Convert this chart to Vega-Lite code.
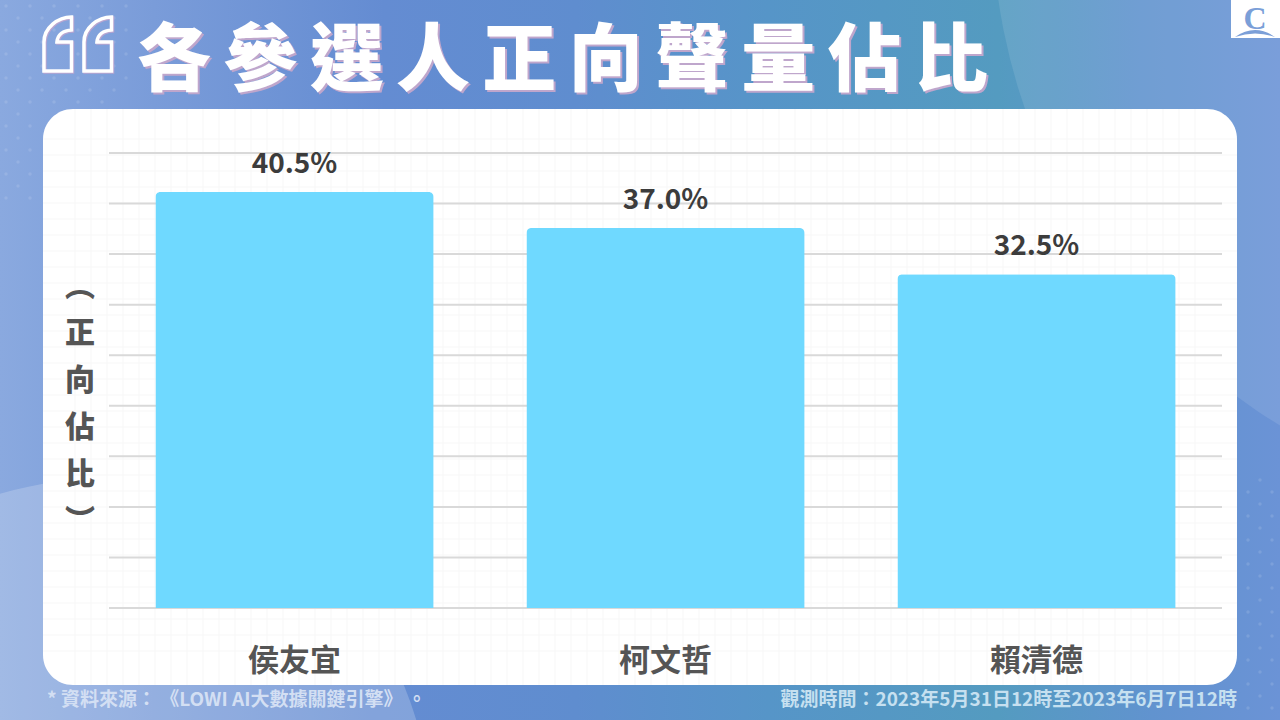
{
  "$schema": "https://vega.github.io/schema/vega-lite/v6.json",
  "description": "各參選人正向聲量佔比",
  "autosize": {"type": "none"},
  "width": 1113,
  "height": 455,
  "padding": {"left": 109, "top": 153, "right": 58, "bottom": 112},
  "background": "#628bd0",
  "config": {"view": {"stroke": null}, "font": "Noto Sans CJK TC"},
  "resolve": {"scale": {"x": "independent", "y": "independent"}},
  "layer": [
    {
      "layer": [
        {
          "data": {"values": [{"name": "bg"}]},
          "mark": {"type": "rect", "color": {"gradient": "linear", "x1": 0, "y1": 0, "x2": 1, "y2": 0, "stops": [
            {"offset": 0, "color": "#8aa9df"},
            {"offset": 0.12, "color": "#7a9cd9"},
            {"offset": 0.3, "color": "#648cd2"},
            {"offset": 0.45, "color": "#5f8dcf"},
            {"offset": 0.6, "color": "#5695c8"},
            {"offset": 0.78, "color": "#549bc0"},
            {"offset": 0.9, "color": "#6193cf"},
            {"offset": 1, "color": "#6b93d6"}
          ]}},
          "encoding": {
            "x": {"datum": 0, "type": "quantitative", "axis": null, "scale": {"domain": [0, 1280], "range": [-109, 1171], "nice": false, "zero": false}},
            "x2": {"datum": 1280},
            "y": {"datum": 0, "type": "quantitative", "axis": null, "scale": {"domain": [0, 720], "range": [-153, 567], "nice": false, "zero": false}},
            "y2": {"datum": 720}
          }
        },
        {
          "data": {"values": [{"name": "blob"}]},
          "mark": {"type": "circle", "color": "#ffffff", "opacity": 0.1, "size": 1440000},
          "encoding": {
            "x": {"datum": 1592, "type": "quantitative", "axis": null},
            "y": {"datum": -87, "type": "quantitative", "axis": null}
          }
        },
        {
          "data": {"values": [{"name": "blob"}]},
          "mark": {"type": "circle", "color": "#ffffff", "opacity": 0.2, "size": 448900},
          "encoding": {
            "x": {"datum": 95, "type": "quantitative", "axis": null},
            "y": {"datum": 815, "type": "quantitative", "axis": null}
          }
        },
        {
          "data": {
            "values": [
              {"px": 6, "py": [6, 30, 54, 78, 102, 126, 150, 174, 198]},
              {"px": 18, "py": [18, 42, 66, 90, 114, 138, 162, 186]},
              {"px": 30, "py": [6, 30, 54, 78, 102, 126, 150, 174, 198]},
              {"px": 42, "py": [18, 42, 66, 90]},
              {"px": 54, "py": [6, 30, 78, 102]},
              {"px": 66, "py": [18, 90]},
              {"px": 78, "py": [6, 30, 54, 78, 102]},
              {"px": 90, "py": [18, 90]},
              {"px": 102, "py": [6, 78, 102]},
              {"px": 114, "py": [18, 42, 66, 90]},
              {"px": 126, "py": [6, 30, 54, 78]},
              {"px": 1248, "py": [492, 516, 540, 564, 588, 612, 636, 660, 684, 708]},
              {"px": 1260, "py": [480, 504, 528, 552, 576, 600, 624, 648, 672, 696]},
              {"px": 1272, "py": [492, 516, 540, 564, 588, 612, 636, 660, 684, 708]}
            ]
          },
          "transform": [{"flatten": ["py"]}],
          "mark": {"type": "circle", "color": "#ffffff", "opacity": 0.12, "size": 12},
          "encoding": {
            "x": {"field": "px", "type": "quantitative", "axis": null},
            "y": {"field": "py", "type": "quantitative", "axis": null}
          }
        },
        {
          "data": {"values": [{"name": "panel"}]},
          "mark": {"type": "rect", "color": "#ffffff", "cornerRadius": 30},
          "encoding": {
            "x": {"datum": 43, "type": "quantitative", "axis": null},
            "x2": {"datum": 1237},
            "y": {"datum": 109, "type": "quantitative", "axis": null},
            "y2": {"datum": 685}
          }
        },
        {
          "data": {
            "values": [
              {"gx": 75}, {"gx": 91}, {"gx": 107}, {"gx": 123}, {"gx": 139}, {"gx": 155}, {"gx": 171}, {"gx": 187}, {"gx": 203}, {"gx": 219},
              {"gx": 235}, {"gx": 251}, {"gx": 267}, {"gx": 283}, {"gx": 299}, {"gx": 315}, {"gx": 331}, {"gx": 347}, {"gx": 363}, {"gx": 379},
              {"gx": 395}, {"gx": 411}, {"gx": 427}, {"gx": 443}, {"gx": 459}, {"gx": 475}, {"gx": 491}, {"gx": 507}, {"gx": 523}, {"gx": 539},
              {"gx": 555}, {"gx": 571}, {"gx": 587}, {"gx": 603}, {"gx": 619}, {"gx": 635}, {"gx": 651}, {"gx": 667}, {"gx": 683}, {"gx": 699},
              {"gx": 715}, {"gx": 731}, {"gx": 747}, {"gx": 763}, {"gx": 779}, {"gx": 795}, {"gx": 811}, {"gx": 827}, {"gx": 843}, {"gx": 859},
              {"gx": 875}, {"gx": 891}, {"gx": 907}, {"gx": 923}, {"gx": 939}, {"gx": 955}, {"gx": 971}, {"gx": 987}, {"gx": 1003}, {"gx": 1019},
              {"gx": 1035}, {"gx": 1051}, {"gx": 1067}, {"gx": 1083}, {"gx": 1099}, {"gx": 1115}, {"gx": 1131}, {"gx": 1147}, {"gx": 1163}, {"gx": 1179}, {"gx": 1195}
            ]
          },
          "mark": {"type": "rule", "color": "#f7f7f7", "strokeWidth": 1},
          "encoding": {
            "x": {"field": "gx", "type": "quantitative", "axis": null},
            "y": {"datum": 109, "type": "quantitative", "axis": null},
            "y2": {"datum": 685}
          }
        },
        {
          "data": {
            "values": [
              {"gy": 139}, {"gy": 155}, {"gy": 171}, {"gy": 187}, {"gy": 203}, {"gy": 219}, {"gy": 235}, {"gy": 251}, {"gy": 267}, {"gy": 283},
              {"gy": 299}, {"gy": 315}, {"gy": 331}, {"gy": 347}, {"gy": 363}, {"gy": 379}, {"gy": 395}, {"gy": 411}, {"gy": 427}, {"gy": 443},
              {"gy": 459}, {"gy": 475}, {"gy": 491}, {"gy": 507}, {"gy": 523}, {"gy": 539}, {"gy": 555}, {"gy": 571}, {"gy": 587}, {"gy": 603},
              {"gy": 619}, {"gy": 635}, {"gy": 651}
            ]
          },
          "mark": {"type": "rule", "color": "#f7f7f7", "strokeWidth": 1},
          "encoding": {
            "x": {"datum": 43, "type": "quantitative", "axis": null},
            "x2": {"datum": 1237},
            "y": {"field": "gy", "type": "quantitative", "axis": null}
          }
        },
        {
          "data": {"values": [{"label": "各\u2006參\u2006選\u2006人\u2006正\u2006向\u2006聲\u2006量\u2006佔\u2006比"}]},
          "mark": {"type": "text", "align": "left", "baseline": "middle", "fontSize": 74, "fontWeight": 900, "color": "#bfa6cc"},
          "encoding": {
            "x": {"datum": 139, "type": "quantitative", "axis": null},
            "y": {"datum": 65, "type": "quantitative", "axis": null},
            "text": {"field": "label"}
          }
        },
        {
          "data": {"values": [{"label": "各\u2006參\u2006選\u2006人\u2006正\u2006向\u2006聲\u2006量\u2006佔\u2006比"}]},
          "mark": {"type": "text", "align": "left", "baseline": "middle", "fontSize": 74, "fontWeight": 900, "color": "#ffffff"},
          "encoding": {
            "x": {"datum": 137, "type": "quantitative", "axis": null},
            "y": {"datum": 63, "type": "quantitative", "axis": null},
            "text": {"field": "label"}
          }
        },
        {
          "data": {"values": [{"quote": 59}, {"quote": 99}]},
          "mark": {"type": "point", "shape": "M -0.52 1 L 0.5 1 L 0.5 -0.07 L -0.04 -0.07 C -0.02 -0.35 0.2 -0.5 0.5 -0.52 L 0.5 -1 C 0 -1 -0.52 -0.6 -0.52 -0.07 Z", "size": 2916, "filled": false, "stroke": "#b9a5d0", "strokeWidth": 3.5, "opacity": 1},
          "encoding": {
            "x": {"field": "quote", "type": "quantitative", "axis": null},
            "y": {"datum": 45, "type": "quantitative", "axis": null}
          }
        },
        {
          "data": {"values": [{"quote": 58}, {"quote": 98}]},
          "mark": {"type": "point", "shape": "M -0.52 1 L 0.5 1 L 0.5 -0.07 L -0.04 -0.07 C -0.02 -0.35 0.2 -0.5 0.5 -0.52 L 0.5 -1 C 0 -1 -0.52 -0.6 -0.52 -0.07 Z", "size": 2916, "filled": false, "stroke": "#ffffff", "strokeWidth": 3.5, "opacity": 1},
          "encoding": {
            "x": {"field": "quote", "type": "quantitative", "axis": null},
            "y": {"datum": 44, "type": "quantitative", "axis": null}
          }
        },
        {
          "data": {"values": [{"name": "logo"}]},
          "mark": {"type": "rect", "color": "#ffffff"},
          "encoding": {
            "x": {"datum": 1231, "type": "quantitative", "axis": null},
            "x2": {"datum": 1280},
            "y": {"datum": 0, "type": "quantitative", "axis": null},
            "y2": {"datum": 38}
          }
        },
        {
          "data": {"values": [{"label": "C"}]},
          "mark": {"type": "text", "font": "Liberation Serif", "fontWeight": "bold", "fontSize": 32, "align": "center", "baseline": "middle", "color": "#7b9fd8"},
          "encoding": {
            "x": {"datum": 1255, "type": "quantitative", "axis": null},
            "y": {"datum": 19, "type": "quantitative", "axis": null},
            "text": {"field": "label"}
          }
        },
        {
          "data": {"values": [{"name": "logo"}]},
          "mark": {"type": "point", "shape": "M -1 0.3 Q 0 -0.4 1 0.3 Q 0 -0.05 -1 0.3 Z", "size": 1600, "filled": true, "color": "#7b9fd8", "opacity": 1},
          "encoding": {
            "x": {"datum": 1255, "type": "quantitative", "axis": null},
            "y": {"datum": 31, "type": "quantitative", "axis": null}
          }
        },
        {
          "data": {"values": [{"name": "ytitle"}]},
          "mark": {"type": "text", "text": ["︵", "正", "向", "佔", "比", "︶"], "lineHeight": 47, "fontSize": 30, "fontWeight": 900, "align": "center", "baseline": "top", "color": "#555555"},
          "encoding": {
            "x": {"datum": 80, "type": "quantitative", "axis": null},
            "y": {"datum": 272, "type": "quantitative", "axis": null}
          }
        },
        {
          "data": {"values": [{"label": "* 資料來源： 《LOWI AI大數據關鍵引擎》\u2005。"}]},
          "mark": {"type": "text", "align": "left", "baseline": "middle", "fontSize": 19, "fontWeight": "bold", "color": "#d3dff3"},
          "encoding": {
            "x": {"datum": 47, "type": "quantitative", "axis": null},
            "y": {"datum": 700, "type": "quantitative", "axis": null},
            "text": {"field": "label"}
          }
        },
        {
          "data": {"values": [{"label": "觀測時間：2023年5月31日12時至2023年6月7日12時"}]},
          "mark": {"type": "text", "align": "right", "baseline": "middle", "fontSize": 19, "fontWeight": "bold", "color": "#c6e0f0"},
          "encoding": {
            "x": {"datum": 1237, "type": "quantitative", "axis": null},
            "y": {"datum": 700, "type": "quantitative", "axis": null},
            "text": {"field": "label"}
          }
        }
      ]
    },
    {
      "layer": [
        {
          "data": {"values": [
            {"tick": 0}, {"tick": 4.92}, {"tick": 9.84}, {"tick": 14.77}, {"tick": 19.69},
            {"tick": 24.61}, {"tick": 29.53}, {"tick": 34.46}, {"tick": 39.38}, {"tick": 44.3}
          ]},
          "mark": {"type": "rule", "color": "#d9d9d9", "strokeWidth": 2},
          "encoding": {
            "y": {"field": "tick", "type": "quantitative", "axis": null, "scale": {"domain": [0, 44.3], "nice": false}}
          }
        },
        {
          "data": {"name": "votes", "values": [
            {"name": "侯友宜", "share": 40.5, "label": "40.5%"},
            {"name": "柯文哲", "share": 37.0, "label": "37.0%"},
            {"name": "賴清德", "share": 32.5, "label": "32.5%"}
          ]},
          "mark": {"type": "bar", "color": "#6fd9ff", "cornerRadiusTopLeft": 5, "cornerRadiusTopRight": 5},
          "encoding": {
            "x": {
              "field": "name", "type": "nominal", "sort": null, "title": null,
              "scale": {"paddingInner": 0.25, "paddingOuter": 0.125},
              "axis": {"labelAngle": 0, "labelFontSize": 31, "labelFontWeight": "bold", "labelColor": "#555555", "labelFont": "Noto Sans CJK TC", "labelPadding": 38, "ticks": false, "domain": false, "grid": false, "zindex": 1}
            },
            "y": {"field": "share", "type": "quantitative", "axis": null}
          }
        },
        {
          "data": {"name": "votes"},
          "mark": {"type": "text", "dy": -27, "fontSize": 28, "fontWeight": "bold", "color": "#3c3c3c", "font": "Noto Sans CJK TC"},
          "encoding": {
            "x": {"field": "name", "type": "nominal", "sort": null},
            "y": {"field": "share", "type": "quantitative", "axis": null},
            "text": {"field": "label"}
          }
        }
      ]
    }
  ]
}
